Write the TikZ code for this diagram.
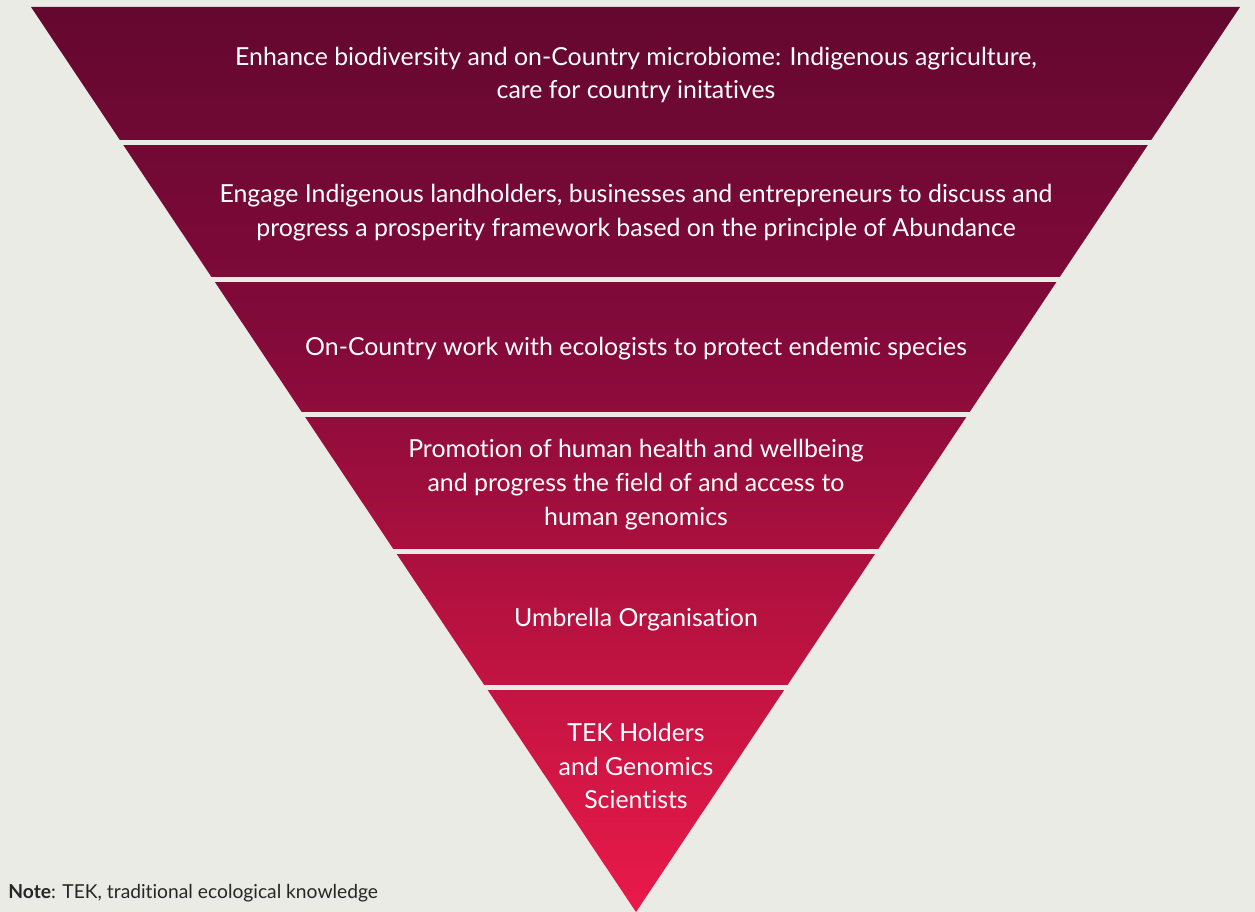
\documentclass[tikz,border=0pt]{standalone}
\usepackage{fontspec}
\setmainfont{Lato}[Ligatures=NoCommon]
\usetikzlibrary{positioning,calc}

\definecolor{bgcol}{RGB}{235,235,230}
\definecolor{topred}{RGB}{100,8,48}
\definecolor{upred}{RGB}{132,10,58}
\definecolor{midred}{RGB}{183,18,64}
\definecolor{tipred}{RGB}{234,26,74}
\pgfdeclareverticalshading{bandfade}{100bp}{color(0bp)=(tipred); color(25bp)=(tipred); color(41.2bp)=(midred); color(56.15bp)=(upred); color(75bp)=(topred); color(100bp)=(topred)}

\begin{document}
\begin{tikzpicture}[x=0.02cm, y=-0.02cm,
  lbl/.style={text=white, align=center, font=\fontsize{14.15}{19.3}\selectfont}]
\useasboundingbox[fill=bgcol] (0,0) rectangle (1255,912);
\shade[shading=bandfade] (31,7) -- (1240,7) -- (636,912) -- cycle;
\foreach \y in {140,277,412,549,685}
  \fill[bgcol] (20,\y) rectangle (1250,\y+5);
\node[lbl] (biod) at (636,75) {Enhance biodiversity and on-Country microbiome: Indigenous agriculture,\\care for country initatives};
\node[lbl] (land) at (636,212.5) {Engage Indigenous landholders, businesses and entrepreneurs to discuss and\\progress a prosperity framework based on the principle of Abundance};
\node[lbl] (eco) at (636,349) {On-Country work with ecologists to protect endemic species};
\node[lbl] (health) at (636,485) {Promotion of human health and wellbeing\\and progress the field of and access to\\human genomics};
\node[lbl] (umb) at (636,620) {Umbrella Organisation};
\node[lbl] (tek) at (636,766) {TEK Holders\\and Genomics\\Scientists};
\node[anchor=west, inner sep=0pt, text=black!85, font=\fontsize{10.95}{13}\selectfont] (note) at (8,893) {\textbf{Note}: TEK, traditional ecological knowledge};
\end{tikzpicture}
\end{document}
